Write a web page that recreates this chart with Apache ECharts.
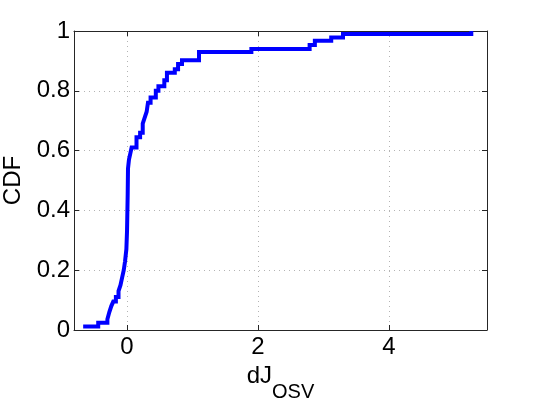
<!DOCTYPE html>
<html>
<head>
<meta charset="utf-8">
<script src="https://cdn.jsdelivr.net/npm/echarts@6/dist/echarts.min.js"></script>
<style>html,body{margin:0;padding:0;background:#fff}#c{width:540px;height:400px}</style>
</head>
<body>
<div id="c"></div>
<script>
// CDF step points (x = dJ_OSV, y = cumulative fraction)
var cdfX = [-0.67, -0.44, -0.30, -0.27, -0.24, -0.21, -0.17, -0.13, -0.10, -0.075, -0.05, -0.03, -0.01, 0.00, 0.01, 0.015, 0.03, 0.05, 0.07, 0.145, 0.20, 0.24, 0.27, 0.30, 0.32, 0.36, 0.44, 0.48, 0.57, 0.61, 0.73, 0.78, 0.84, 1.10, 1.90, 2.79, 2.87, 3.12, 3.30, 5.26];
var cdfY = [0.012, 0.024, 0.036, 0.06, 0.08, 0.095, 0.11, 0.13, 0.15, 0.175, 0.20, 0.23, 0.27, 0.33, 0.45, 0.54, 0.57, 0.59, 0.61, 0.645, 0.66, 0.69, 0.71, 0.73, 0.76, 0.778, 0.80, 0.815, 0.835, 0.86, 0.872, 0.89, 0.902, 0.93, 0.94, 0.953, 0.967, 0.978, 0.99, 1.0];
var xTicks = [0, 2, 4];
var yTicks = [0, 0.2, 0.4, 0.6, 0.8, 1];

var pts = cdfX.map(function (x, i) { return [x, cdfY[i]]; });
var font = 'Liberation Sans, Arial, Helvetica, sans-serif';
var axisCol = '#262626';
var gridCol = '#b4b4b4';

var chart = echarts.init(document.getElementById('c'), null, {renderer: 'canvas'});
chart.setOption({
  animation: false,
  backgroundColor: '#fff',
  grid: {left: 74, right: 53, top: 31, bottom: 70, containLabel: false, outerBoundsMode: 'none'},
  xAxis: [{
    type: 'value', min: -0.81, max: 5.5, position: 'bottom',
    name: '{m|dJ}{s|OSV}', nameLocation: 'middle', nameGap: 31,
    nameTextStyle: {rich: {
      m: {fontSize: 24, fontFamily: font, color: '#000', verticalAlign: 'top', lineHeight: 39},
      s: {fontSize: 20, fontFamily: font, color: '#000', verticalAlign: 'bottom', lineHeight: 39}
    }},
    axisLine: {show: true, onZero: false, lineStyle: {color: axisCol, width: 1}},
    axisTick: {show: true, inside: true, length: 5, customValues: xTicks, lineStyle: {color: axisCol}},
    axisLabel: {customValues: xTicks, fontSize: 24, fontFamily: font, color: '#000', margin: 5},
    splitLine: {show: true, lineStyle: {color: gridCol, type: [1, 4], width: 1}}
  }, {
    type: 'value', min: -0.81, max: 5.5, position: 'top',
    axisLine: {show: true, onZero: false, lineStyle: {color: axisCol, width: 1}},
    axisTick: {show: true, inside: true, length: 5, customValues: xTicks, lineStyle: {color: axisCol}},
    axisLabel: {show: false},
    splitLine: {show: false}
  }],
  yAxis: [{
    type: 'value', min: 0, max: 1, interval: 0.2, position: 'left',
    name: 'CDF', nameLocation: 'middle', nameGap: 47,
    nameTextStyle: {fontSize: 24, fontFamily: font, color: '#000'},
    axisLine: {show: true, onZero: false, lineStyle: {color: axisCol, width: 1}},
    axisTick: {show: true, inside: true, length: 5, lineStyle: {color: axisCol}},
    axisLabel: {fontSize: 24, fontFamily: font, color: '#000', margin: 4,
      formatter: function (v) { return String(Math.round(v * 10) / 10); }},
    splitLine: {show: true, lineStyle: {color: gridCol, type: [1, 4], width: 1}}
  }, {
    type: 'value', min: 0, max: 1, interval: 0.2, position: 'right',
    axisLine: {show: true, onZero: false, lineStyle: {color: axisCol, width: 1}},
    axisTick: {show: true, inside: true, length: 5, lineStyle: {color: axisCol}},
    axisLabel: {show: false},
    splitLine: {show: false}
  }],
  series: [{
    type: 'line',
    data: pts,
    step: 'end',
    showSymbol: false,
    lineStyle: {color: '#0000ff', width: 4, join: 'miter', cap: 'butt'},
    clip: true
  }]
});
</script>
</body>
</html>
